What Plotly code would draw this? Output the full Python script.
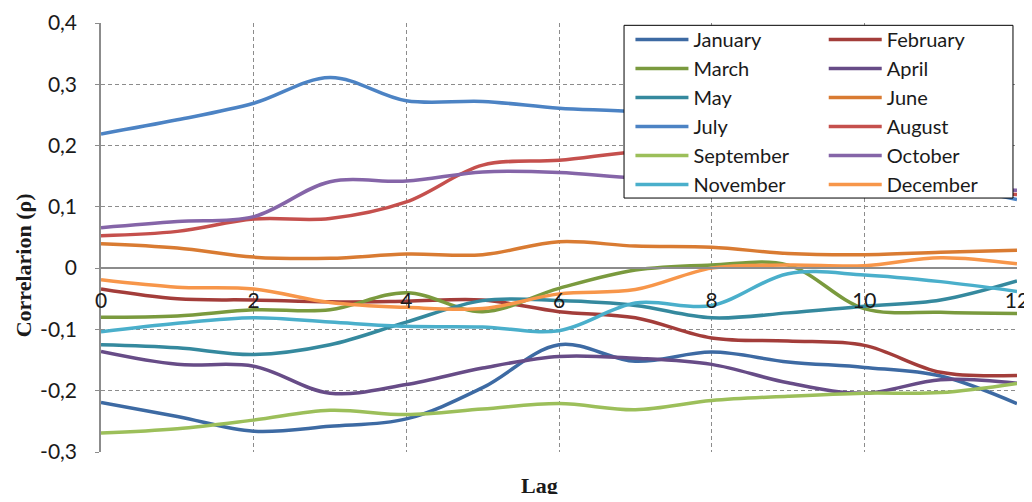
import plotly.graph_objects as go

lags = list(range(13))

months = ["January", "February", "March", "April", "May", "June",
          "July", "August", "September", "October", "November", "December"]

colors = ["#3D6AA3", "#A33D3A", "#7A9A3E", "#674C87", "#35899E", "#D97B32",
          "#4C83C4", "#C5504D", "#9CBF5A", "#8565A8", "#4AAFCB", "#F7964A"]

january = [-0.219, -0.242, -0.266, -0.258, -0.246, -0.195, -0.125, -0.152, -0.137, -0.153, -0.162, -0.176, -0.221]
february = [-0.034, -0.050, -0.052, -0.055, -0.054, -0.052, -0.071, -0.081, -0.114, -0.119, -0.126, -0.170, -0.175]
march = [-0.080, -0.078, -0.068, -0.068, -0.040, -0.071, -0.033, -0.003, 0.005, 0.005, -0.066, -0.072, -0.074]
april = [-0.136, -0.157, -0.160, -0.204, -0.190, -0.163, -0.144, -0.147, -0.157, -0.187, -0.204, -0.182, -0.188]
may = [-0.125, -0.130, -0.141, -0.125, -0.088, -0.053, -0.053, -0.061, -0.081, -0.073, -0.062, -0.052, -0.021]
june = [0.040, 0.033, 0.018, 0.016, 0.023, 0.022, 0.043, 0.036, 0.034, 0.024, 0.022, 0.026, 0.029]
july = [0.219, 0.242, 0.269, 0.311, 0.273, 0.272, 0.261, 0.255, 0.24, 0.215, 0.18, 0.14, 0.112]
august = [0.053, 0.060, 0.080, 0.081, 0.108, 0.168, 0.176, 0.190, 0.195, 0.18, 0.16, 0.13, 0.120]
september = [-0.269, -0.262, -0.248, -0.232, -0.239, -0.230, -0.221, -0.231, -0.216, -0.209, -0.204, -0.203, -0.188]
october = [0.066, 0.076, 0.084, 0.141, 0.142, 0.157, 0.156, 0.147, 0.145, 0.14, 0.135, 0.13, 0.127]
november = [-0.104, -0.090, -0.081, -0.088, -0.095, -0.096, -0.102, -0.057, -0.061, -0.009, -0.011, -0.022, -0.038]
december = [-0.019, -0.031, -0.034, -0.056, -0.064, -0.066, -0.042, -0.035, 0.000, 0.005, 0.004, 0.017, 0.007]

series = [january, february, march, april, may, june,
          july, august, september, october, november, december]

y_ticks = [-0.3, -0.2, -0.1, 0, 0.1, 0.2, 0.3, 0.4]
y_tick_text = ["-0,3", "-0,2", "-0,1", "0", "0,1", "0,2", "0,3", "0,4"]
x_ticks = [0, 2, 4, 6, 8, 10, 12]

grid = "#8C8C8C"
label_font = dict(family="Lato, Open Sans, sans-serif", size=21, color="#1A1A1A")
legend_font = dict(family="Lato, Open Sans, sans-serif", size=20, color="#1A1A1A")
title_font = dict(family="Liberation Serif, DejaVu Serif, serif", size=22, color="#1A1A1A")

fig = go.Figure()
for i, (name, vals, col) in enumerate(zip(months, series, colors)):
    # two legend columns: odd months left, even months right
    fig.add_trace(go.Scatter(
        x=lags, y=vals, name=name, mode="lines",
        line=dict(color=col, width=3.5, shape="spline", smoothing=1.0),
        legend="legend" if i % 2 == 0 else "legend2",
        hoverinfo="skip"
    ))

leg = dict(
    yref="container", yanchor="top", xanchor="left", y=0.9755,
    bgcolor="rgba(0,0,0,0)", borderwidth=0,
    font=legend_font, itemwidth=53
)

# the html body has an 8px margin on every side, so the figure is made smaller
fig.update_layout(
    width=1024, height=486,
    margin=dict(l=93, r=15, t=15, b=42, autoexpand=False),
    plot_bgcolor="white", paper_bgcolor="white",
    font=label_font,
    xaxis=dict(
        range=[0, 12], tickvals=x_ticks, ticks="",
        showgrid=True, gridcolor=grid, griddash="4px,3px", gridwidth=1,
        zeroline=False, showline=True, linecolor=grid, linewidth=1.5,
        anchor="free", position=3 / 7, ticklabelstandoff=14,
        tickfont=label_font, automargin=False, ticklabeloverflow="allow"
    ),
    yaxis=dict(
        range=[-0.3, 0.4], tickvals=y_ticks, ticktext=y_tick_text,
        ticks="outside", ticklen=4, tickcolor=grid,
        showgrid=True, gridcolor=grid, griddash="4px,3px", gridwidth=1,
        zeroline=True, zerolinecolor=grid, zerolinewidth=1.5,
        showline=True, linecolor=grid, linewidth=1.5,
        ticklabelstandoff=14, tickfont=label_font, automargin=False,
        ticklabeloverflow="allow"
    ),
    legend=dict(leg, x=0.578),
    legend2=dict(leg, x=0.789),
    shapes=[
        dict(type="rect", xref="paper", yref="paper",
             x0=0.571, x1=0.9956, y0=0.592, y1=0.9946,
             fillcolor="white", line=dict(color="black", width=1), layer="above")
    ],
    annotations=[
        dict(text="<b>Correlarion (ρ)</b>", xref="paper", yref="paper",
             x=-0.0852, y=0.435, xanchor="center", yanchor="middle",
             textangle=-90, showarrow=False, font=title_font),
        dict(text="<b>Lag</b>", xref="paper", yref="paper",
             x=0.479, y=-0.0776, xanchor="center", yanchor="middle",
             showarrow=False, font=title_font),
    ]
)

fig.write_html("out.html")
